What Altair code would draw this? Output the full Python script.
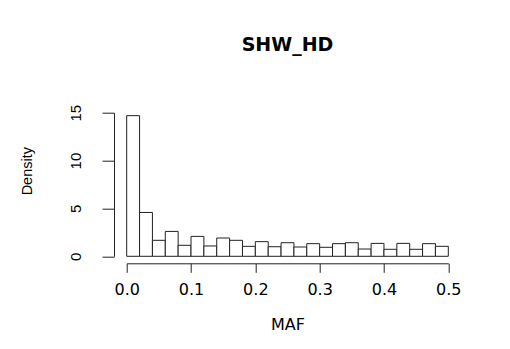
import altair as alt
import pandas as pd

# Histogram of MAF (density scale), 25 bins of width 0.02
bin_left = [round(i * 0.02, 2) for i in range(25)]
bin_right = [round((i + 1) * 0.02, 2) for i in range(25)]
density = [14.69, 4.58, 1.67, 2.60, 1.15, 2.08, 1.08, 1.91, 1.67, 1.04,
           1.53, 1.00, 1.42, 0.97, 1.32, 0.94, 1.32, 1.42, 0.76, 1.35,
           0.73, 1.35, 0.73, 1.32, 1.04]
x_ticks = [0.0, 0.1, 0.2, 0.3, 0.4, 0.5]
y_ticks = [0, 5, 10, 15]

df = pd.DataFrame({"lo": bin_left, "hi": bin_right, "density": density})

W, H = 321.6, 143.6
PL, PT = 118.7, 104.7
PR = 494 - PL - W
PB = 333 - PT - H

bars = alt.Chart(df).mark_rect(fill="white", stroke="#222", strokeWidth=1).encode(
    x=alt.X("lo:Q", scale=alt.Scale(domain=[0, 0.5], nice=False, zero=False),
            axis=alt.Axis(values=x_ticks, format=".1f", title="MAF", offset=7,
                          tickSize=9, labelPadding=9, titlePadding=19,
                          labelFlush=False, grid=False)),
    x2="hi:Q",
    y=alt.Y("density:Q", scale=alt.Scale(domain=[0, 15], nice=False),
            axis=alt.Axis(values=y_ticks, format="d", title="Density", offset=12.7,
                          tickSize=12, labelAngle=270, labelAlign="center",
                          labelBaseline="middle", labelPadding=27,
                          labelFlush=False,
                          titleX=-82.7, titleY=58, titleAngle=270,
                          titleAlign="center", titleBaseline="alphabetic",
                          grid=False)),
    y2=alt.datum(0),
)

chart = bars.properties(
    width=W, height=H,
    autosize=alt.AutoSizeParams(type="none"),
    padding={"left": PL, "top": PT, "right": PR, "bottom": PB},
    background="white",
    title=alt.TitleParams(text="SHW_HD", font="DejaVu Sans", fontSize=19,
                          fontWeight="bold", anchor="middle", frame="group",
                          baseline="alphabetic", offset=34, color="black"),
).configure_view(stroke=None).configure_axis(
    domainColor="#222", tickColor="#222", domainWidth=1, tickWidth=1,
    labelColor="black", titleColor="black",
).configure_axisX(
    labelFont="DejaVu Sans", labelFontSize=16, titleFont="DejaVu Sans",
    titleFontSize=16, titleFontWeight="normal",
).configure_axisY(
    labelFont="Liberation Sans", labelFontSize=15, titleFont="Liberation Sans",
    titleFontSize=14.5, titleFontWeight="normal",
)

chart.save("out.html", embed_options={"renderer": "svg", "actions": False})
